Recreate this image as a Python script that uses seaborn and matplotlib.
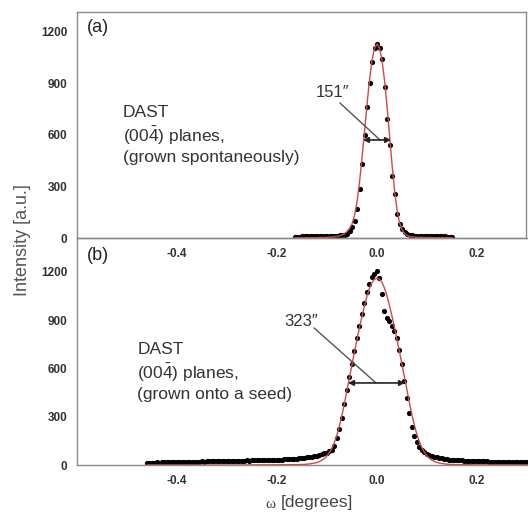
import numpy as np
import pandas as pd
import matplotlib
matplotlib.use("Agg")
import matplotlib.pyplot as plt
import seaborn as sns

# ---- (a) DAST grown spontaneously ----
omega_a = [-0.165, -0.160, -0.155, -0.150, -0.145, -0.140, -0.135, -0.130, -0.125, -0.120,
           -0.115, -0.110, -0.105, -0.100, -0.095, -0.090, -0.085, -0.080, -0.075, -0.070,
           -0.065, -0.060, -0.055, -0.050, -0.045, -0.040, -0.035, -0.030, -0.025, -0.020,
           -0.015, -0.010, -0.005, 0.000, 0.005, 0.010, 0.015, 0.020, 0.025, 0.030,
           0.035, 0.040, 0.045, 0.050, 0.055, 0.060, 0.065, 0.070, 0.075, 0.080,
           0.085, 0.090, 0.095, 0.100, 0.105, 0.110, 0.115, 0.120, 0.125, 0.130,
           0.135, 0.140, 0.145, 0.150]
counts_a = [8, 8, 8, 9, 9, 9, 9, 10, 10, 10,
            10, 11, 11, 12, 12, 13, 13, 14, 15, 17,
            20, 26, 38, 62, 98, 170, 285, 430, 600, 760,
            905, 1025, 1105, 1130, 1105, 1040, 880, 695, 540, 360,
            255, 140, 82, 52, 34, 24, 19, 16, 14, 13,
            12, 12, 11, 11, 10, 10, 10, 9, 9, 9,
            9, 8, 8, 8]
fit_a = [1, 1, 1, 1, 1, 2, 2, 2, 2, 2,
         3, 3, 3, 4, 5, 6, 8, 10, 13, 18,
         26, 38, 55, 82, 130, 210, 325, 465, 620, 775,
         920, 1035, 1105, 1130, 1105, 1035, 920, 770, 600, 430,
         280, 165, 90, 48, 26, 15, 9, 6, 5, 4,
         4, 3, 3, 3, 3, 2, 2, 2, 2, 2,
         2, 2, 2, 2]

# ---- (b) DAST grown onto a seed ----
omega_b = [-0.460, -0.455, -0.450, -0.445, -0.440, -0.435, -0.430, -0.425, -0.420, -0.415,
           -0.410, -0.405, -0.400, -0.395, -0.390, -0.385, -0.380, -0.375, -0.370, -0.365,
           -0.360, -0.355, -0.350, -0.345, -0.340, -0.335, -0.330, -0.325, -0.320, -0.315,
           -0.310, -0.305, -0.300, -0.295, -0.290, -0.285, -0.280, -0.275, -0.270, -0.265,
           -0.260, -0.255, -0.250, -0.245, -0.240, -0.235, -0.230, -0.225, -0.220, -0.215,
           -0.210, -0.205, -0.200, -0.195, -0.190, -0.185, -0.180, -0.175, -0.170, -0.165,
           -0.160, -0.155, -0.150, -0.145, -0.140, -0.135, -0.130, -0.125, -0.120, -0.115,
           -0.110, -0.105, -0.100, -0.095, -0.090, -0.085, -0.080, -0.075, -0.070, -0.065,
           -0.060, -0.055, -0.050, -0.045, -0.040, -0.035, -0.030, -0.025, -0.020, -0.015,
           -0.010, -0.005, 0.000, 0.005, 0.010, 0.015, 0.020, 0.025, 0.030, 0.035,
           0.040, 0.045, 0.050, 0.055, 0.060, 0.065, 0.070, 0.075, 0.080, 0.085,
           0.090, 0.095, 0.100, 0.105, 0.110, 0.115, 0.120, 0.125, 0.130, 0.135,
           0.140, 0.145, 0.150, 0.155, 0.160, 0.165, 0.170, 0.175, 0.180, 0.185,
           0.190, 0.195, 0.200, 0.205, 0.210, 0.215, 0.220, 0.225, 0.230, 0.235,
           0.240, 0.245, 0.250, 0.255, 0.260, 0.265, 0.270, 0.275, 0.280, 0.285,
           0.290, 0.295, 0.300, 0.305, 0.310]
counts_b = [14, 15, 14, 15, 16, 15, 16, 17, 16, 17,
            18, 17, 18, 19, 18, 19, 20, 19, 20, 21,
            20, 21, 22, 21, 22, 23, 22, 23, 24, 23,
            24, 25, 24, 25, 26, 25, 26, 27, 26, 27,
            28, 27, 28, 29, 28, 29, 30, 29, 30, 31,
            30, 31, 32, 33, 34, 35, 36, 37, 38, 39,
            40, 41, 43, 45, 47, 49, 52, 55, 59, 63,
            68, 72, 76, 84, 95, 120, 165, 225, 295, 380,
            465, 550, 630, 710, 790, 865, 940, 1010, 1075, 1125,
            1170, 1190, 1205, 1165, 1060, 955, 915, 893, 866, 835,
            790, 712, 625, 520, 415, 325, 238, 180, 140, 112,
            95, 80, 70, 62, 56, 51, 47, 44, 41, 38,
            36, 34, 32, 31, 30, 29, 28, 27, 26, 26,
            25, 24, 24, 23, 23, 22, 22, 21, 21, 20,
            20, 20, 19, 19, 19, 18, 18, 18, 17, 17,
            17, 16, 16, 16, 15]
omega_fit_b = [-0.460, -0.300, -0.200, -0.170,
               -0.150, -0.145, -0.140, -0.135, -0.130, -0.125, -0.120, -0.115, -0.110, -0.105,
               -0.100, -0.095, -0.090, -0.085, -0.080, -0.075, -0.070, -0.065, -0.060, -0.055,
               -0.050, -0.045, -0.040, -0.035, -0.030, -0.025, -0.020, -0.015, -0.010, -0.005,
               0.000, 0.005, 0.010, 0.015, 0.020, 0.025, 0.030, 0.035, 0.040, 0.045,
               0.050, 0.055, 0.060, 0.065, 0.070, 0.075, 0.080, 0.085, 0.090, 0.095,
               0.100, 0.105, 0.110, 0.115, 0.120, 0.125, 0.130, 0.135, 0.140, 0.145,
               0.150, 0.170, 0.200, 0.320]
fit_b = [0, 0, 1, 2,
         3, 4, 5, 7, 9, 12, 16, 22, 30, 41,
         57, 78, 106, 142, 188, 245, 310, 385, 465, 545,
         624, 703, 780, 855, 925, 990, 1050, 1100, 1135, 1155,
         1160, 1155, 1135, 1100, 1050, 990, 925, 855, 780, 703,
         624, 545, 465, 385, 310, 245, 188, 142, 106, 78,
         57, 41, 30, 22, 16, 12, 9, 7, 5, 4,
         3, 2, 1, 0]

x_ticks = [-0.4, -0.2, 0.0, 0.2]
x_tick_labels = ["-0.4", "-0.2", "0.0", "0.2"]
y_ticks = [0, 300, 600, 900, 1200]
y_tick_labels = ["0", "300", "600", "900", "1200"]

assert len(omega_a) == len(counts_a) == len(fit_a)
assert len(omega_b) == len(counts_b)
assert len(omega_fit_b) == len(fit_b)

df_a = pd.DataFrame({"omega": omega_a, "counts": counts_a, "fit": fit_a})
df_b = pd.DataFrame({"omega": omega_b, "counts": counts_b})
df_fit_b = pd.DataFrame({"omega": omega_fit_b, "fit": fit_b})

sns.set_style("white")
plt.rcParams["font.family"] = ["Liberation Sans", "DejaVu Sans"]
plt.rcParams["mathtext.fontset"] = "custom"
plt.rcParams["mathtext.rm"] = "Liberation Sans"

red = "#cc4a4a"
spine_col = "#8a8a8a"
txt_col = "#333333"

fig = plt.figure(figsize=(5.28, 5.15), dpi=100)
ax_a = fig.add_axes([77 / 528, 1 - 238 / 515, 449 / 528, 226 / 515])
ax_b = fig.add_axes([77 / 528, 1 - 465 / 515, 460 / 528, 227 / 515])
ax_b.set_facecolor("none")

sns.scatterplot(data=df_a, x="omega", y="counts", ax=ax_a, color="black",
                s=14, linewidth=0, zorder=2)
sns.lineplot(data=df_a, x="omega", y="fit", ax=ax_a, color=red, lw=1.0, zorder=3)
sns.scatterplot(data=df_b, x="omega", y="counts", ax=ax_b, color="black",
                s=14, linewidth=0, zorder=2)
sns.lineplot(data=df_fit_b, x="omega", y="fit", ax=ax_b, color=red, lw=1.0, zorder=3)

ax_a.set_xlim(-0.6, -0.6 + 449 / 500)
ax_a.set_ylim(0, 1316)
ax_b.set_xlim(-0.6, -0.6 + 460 / 500)
ax_b.set_ylim(0, 1411)
ax_b.spines["right"].set_visible(False)

for ax in (ax_a, ax_b):
    ax.set_xlabel("")
    ax.set_ylabel("")
    ax.set_xticks(x_ticks, labels=x_tick_labels, fontweight="bold")
    ax.set_yticks(y_ticks, labels=y_tick_labels, fontweight="bold")
    ax.tick_params(direction="in", length=3, width=0.8, color=spine_col,
                   labelsize=8.5, labelcolor=txt_col, pad=7)
    for sp in ax.spines.values():
        sp.set_color(spine_col)
        sp.set_linewidth(1.0)

# panel (a) annotations
ax_a.text(0.022, 0.93, "(a)", transform=ax_a.transAxes, fontsize=13,
          color="#222222", va="center", ha="left")
ax_a.text(0.102, 0.456, "DAST\n(00$\\mathrm{\\bar{4}}$) planes,\n(grown spontaneously)",
          transform=ax_a.transAxes, fontsize=12.5, color=txt_col, va="center",
          ha="left", linespacing=1.25)
ax_a.text(-0.088, 845, "151\u2033", fontsize=12, color=txt_col, ha="center", va="center")
ax_a.annotate("", xy=(0.006, 571), xytext=(-0.074, 786),
              arrowprops=dict(arrowstyle="-", color="#555555", lw=1.0, shrinkA=0, shrinkB=0))
ax_a.annotate("", xy=(-0.028, 571), xytext=(0.028, 571),
              arrowprops=dict(arrowstyle="<|-|>", color="#222222", lw=1.2,
                              mutation_scale=8, shrinkA=0, shrinkB=0))

# panel (b) annotations
ax_b.text(0.022, 0.925, "(b)", transform=ax_b.transAxes, fontsize=13,
          color="#222222", va="center", ha="left")
ax_b.text(0.131, 0.41, "DAST\n(00$\\mathrm{\\bar{4}}$) planes,\n(grown onto a seed)",
          transform=ax_b.transAxes, fontsize=12.5, color=txt_col, va="center",
          ha="left", linespacing=1.25)
ax_b.text(-0.152, 889, "323\u2033", fontsize=12, color=txt_col, ha="center", va="center")
ax_b.annotate("", xy=(-0.002, 510), xytext=(-0.126, 852),
              arrowprops=dict(arrowstyle="-", color="#555555", lw=1.0, shrinkA=0, shrinkB=0))
ax_b.annotate("", xy=(-0.058, 510), xytext=(0.056, 510),
              arrowprops=dict(arrowstyle="<|-|>", color="#222222", lw=1.2,
                              mutation_scale=8, shrinkA=0, shrinkB=0))

# axis titles
fig.text(23 / 528, 1 - 240 / 515, "Intensity [a.u.]", rotation=90, fontsize=13,
         color="#555555", ha="center", va="center")
fig.text(270 / 528, 1 - 505 / 515, "\u03c9", fontsize=11, color="#444444",
         family=["Liberation Serif", "DejaVu Serif"], ha="center", va="center")
fig.text(317 / 528, 1 - 503 / 515, "[degrees]", fontsize=12.5, color="#444444",
         ha="center", va="center")

fig.savefig("out.png", dpi=100)
